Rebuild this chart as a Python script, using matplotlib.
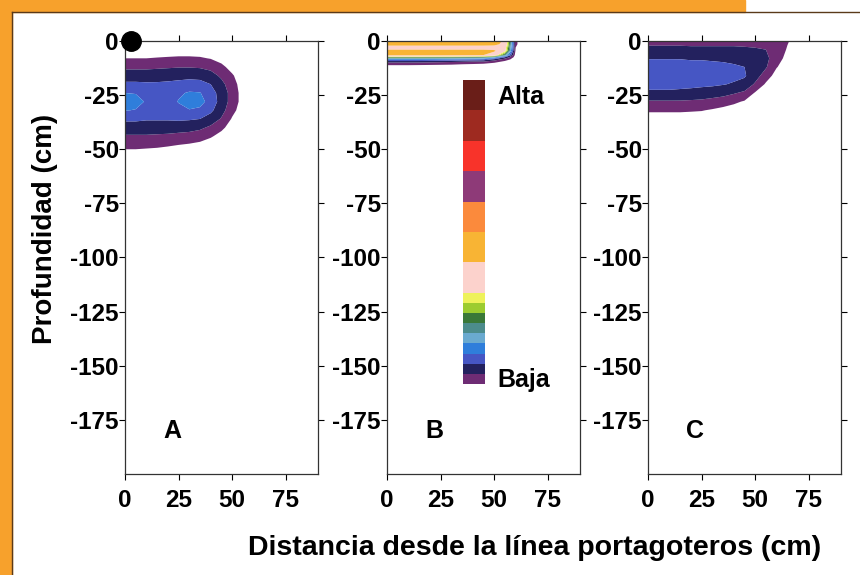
import numpy as np
import matplotlib
matplotlib.use("Agg")
import matplotlib.pyplot as plt
from matplotlib.colors import ListedColormap, BoundaryNorm
from matplotlib.cm import ScalarMappable
from matplotlib.patches import Rectangle

plt.rcParams['font.family'] = ['Liberation Sans Narrow', 'Liberation Sans', 'DejaVu Sans']
plt.rcParams['font.weight'] = 'bold'
plt.rcParams['axes.unicode_minus'] = False

# concentration classes, low (Baja) to high (Alta)
class_colors = ['#6e2c74', '#23215e', '#4656c4', '#2f7edb', '#6aaad0',
                '#4c8c8c', '#3a7838', '#9ccc30', '#eef25a', '#fcd2cc',
                '#f8b434', '#fb8a3c', '#8e3a78', '#f8332a', '#9e2a20', '#6a1e18']
class_bounds = [0.5, 1.5, 2.5, 3.5, 4.5, 5.5, 6.5, 7.5, 8.5, 9.5,
                12.5, 15.5, 18.5, 21.5, 24.5, 27.5, 30.5]

# distance from the dripper line (cm)
dist = [0, 5, 10, 15, 20, 25, 30, 35, 40, 45, 50, 55, 60, 65, 70, 90]

# --- A ---
depth_a = [0, -4, -8, -12, -16, -20, -24, -28, -32, -36, -40, -44, -48, -52, -56, -200]
conc_a = [
    [0] * 16,
    [0] * 16,
    [0.5, 0.5, 0.5, 0.55, 0.6, 0.65, 0.65, 0.6, 0.45, 0.2, 0, 0, 0, 0, 0, 0],
    [1.3, 1.3, 1.3, 1.35, 1.4, 1.45, 1.45, 1.4, 1.2, 0.7, 0.2, 0, 0, 0, 0, 0],
    [2.0, 2.0, 2.0, 2.05, 2.1, 2.15, 2.2, 2.15, 1.9, 1.3, 0.6, 0, 0, 0, 0, 0],
    [2.7, 2.7, 2.65, 2.65, 2.7, 2.8, 2.9, 2.85, 2.5, 1.8, 0.9, 0.05, 0, 0, 0, 0],
    [3.5, 3.45, 3.15, 3.0, 3.05, 3.35, 3.6, 3.55, 2.9, 2.1, 1.1, 0.1, 0, 0, 0, 0],
    [4.0, 3.85, 3.4, 3.1, 3.15, 3.55, 3.9, 3.85, 3.1, 2.1, 1.1, 0.1, 0, 0, 0, 0],
    [3.55, 3.45, 3.15, 3.0, 3.0, 3.25, 3.45, 3.3, 2.7, 1.9, 0.8, 0, 0, 0, 0, 0],
    [2.7, 2.7, 2.6, 2.6, 2.6, 2.65, 2.6, 2.5, 2.1, 1.4, 0.4, 0, 0, 0, 0, 0],
    [2.0, 2.0, 2.0, 2.0, 2.0, 1.95, 1.9, 1.7, 1.3, 0.7, 0.1, 0, 0, 0, 0, 0],
    [1.4, 1.4, 1.4, 1.35, 1.3, 1.2, 1.1, 0.95, 0.6, 0.2, 0, 0, 0, 0, 0, 0],
    [0.8, 0.8, 0.75, 0.7, 0.6, 0.5, 0.4, 0.25, 0.05, 0, 0, 0, 0, 0, 0, 0],
    [0.2, 0.2, 0.15, 0.1, 0.05, 0, 0, 0, 0, 0, 0, 0, 0, 0, 0, 0],
    [0] * 16,
    [0] * 16,
]

# --- B ---
depth_b = [0, -1.5, -3, -4.5, -6.5, -7.5, -8.5, -9.5, -10.5, -12, -200]
conc_b = np.array([
    # one row per distance, columns follow depth_b
    [14.0, 13.6, 11.0, 13.2, 13.0, 7.5, 4.0, 2.0, 0.9, 0, 0],
    [14.0, 13.6, 11.0, 13.2, 13.0, 7.5, 4.0, 2.0, 0.9, 0, 0],
    [14.0, 13.6, 11.0, 13.2, 13.0, 7.5, 4.0, 2.0, 0.9, 0, 0],
    [14.0, 13.6, 11.0, 13.2, 13.0, 7.5, 4.0, 2.0, 0.85, 0, 0],
    [14.0, 13.6, 11.0, 13.2, 13.0, 7.4, 3.9, 1.9, 0.8, 0, 0],
    [14.0, 13.6, 11.0, 13.2, 13.0, 7.3, 3.8, 1.8, 0.75, 0, 0],
    [14.0, 13.6, 11.0, 13.2, 12.9, 7.2, 3.7, 1.7, 0.7, 0, 0],
    [14.0, 13.6, 11.0, 13.2, 12.8, 7.0, 3.5, 1.6, 0.6, 0, 0],
    [14.0, 13.6, 11.0, 13.2, 12.7, 6.8, 3.4, 1.5, 0.55, 0, 0],
    [14.0, 13.6, 11.0, 13.2, 12.5, 6.5, 3.2, 1.5, 0.5, 0, 0],
    [13.8, 13.4, 11.0, 12.9, 11.0, 5.0, 2.2, 0.9, 0.2, 0, 0],
    [12.0, 11.5, 10.5, 10.0, 6.0, 2.5, 1.0, 0.3, 0, 0, 0],
    [0.6, 0.6, 0.5, 0.3, 0, 0, 0, 0, 0, 0, 0],
    [0] * 11,
    [0] * 11,
    [0] * 11,
]).T

# --- C ---
depth_c = [0, -4, -8, -12, -16, -20, -24, -28, -32, -36, -200]
conc_c = np.array([
    [1.2, 1.75, 2.45, 2.95, 3.05, 2.85, 2.3, 1.4, 0.65, 0, 0],
    [1.2, 1.75, 2.45, 2.95, 3.05, 2.85, 2.3, 1.4, 0.65, 0, 0],
    [1.2, 1.75, 2.45, 2.95, 3.05, 2.85, 2.3, 1.4, 0.65, 0, 0],
    [1.2, 1.75, 2.45, 2.9, 3.05, 2.8, 2.25, 1.4, 0.65, 0, 0],
    [1.2, 1.7, 2.4, 2.85, 3.0, 2.75, 2.2, 1.35, 0.6, 0, 0],
    [1.2, 1.7, 2.4, 2.85, 3.0, 2.7, 2.1, 1.3, 0.55, 0, 0],
    [1.2, 1.7, 2.35, 2.8, 2.95, 2.65, 2.0, 1.15, 0.4, 0, 0],
    [1.2, 1.7, 2.3, 2.75, 2.9, 2.55, 1.85, 1.0, 0.2, 0, 0],
    [1.2, 1.7, 2.2, 2.65, 2.75, 2.4, 1.6, 0.7, 0.05, 0, 0],
    [1.2, 1.65, 2.1, 2.5, 2.6, 2.2, 1.3, 0.4, 0, 0, 0],
    [1.15, 1.6, 1.9, 2.1, 1.95, 1.35, 0.4, 0, 0, 0, 0],
    [1.1, 1.5, 1.7, 1.6, 1.0, 0.35, 0, 0, 0, 0, 0],
    [0.95, 1.2, 1.05, 0.55, 0.1, 0, 0, 0, 0, 0, 0],
    [0.6, 0.4, 0.1, 0, 0, 0, 0, 0, 0, 0, 0],
    [0] * 11,
    [0] * 11,
]).T

panel_letters = ['A', 'B', 'C']
x_ticks = [0, 25, 50, 75]
y_ticks = [0, -25, -50, -75, -100, -125, -150, -175]

cmap = ListedColormap(class_colors)
norm = BoundaryNorm(class_bounds, cmap.N)

fig = plt.figure(figsize=(8.6, 5.75), dpi=100)

# orange frame on the left and top edges
fig.patches.append(Rectangle((0, 0.979), 0.866, 0.021, transform=fig.transFigure,
                             color='#f7a12c', zorder=0))
fig.patches.append(Rectangle((0, 0), 0.014, 1, transform=fig.transFigure,
                             color='#f7a12c', zorder=0))
fig.add_artist(plt.Line2D([0.014, 0.014], [0, 0.979], transform=fig.transFigure,
                          color='#5a3a1a', lw=1))
fig.add_artist(plt.Line2D([0.014, 1], [0.979, 0.979], transform=fig.transFigure,
                          color='#5a3a1a', lw=1))

lefts = [0.1453, 0.450, 0.7535]
fields = [(depth_a, conc_a), (depth_b, conc_b), (depth_c, conc_c)]

for left, (depth, conc), letter in zip(lefts, fields, panel_letters):
    ax = fig.add_axes([left, 0.1757, 0.2244, 0.753])
    ax.contourf(dist, depth, np.asarray(conc), levels=class_bounds,
                colors=class_colors, antialiased=True)
    ax.set_xlim(0, 90)
    ax.set_ylim(-200, 0)
    ax.set_xticks(x_ticks)
    ax.set_yticks(y_ticks)
    ax.tick_params(direction='out', length=4, width=0.8, top=True, right=True,
                   labelsize=17.5, pad=0.5)
    ax.tick_params(axis='x', pad=7)
    for lab in ax.get_xticklabels() + ax.get_yticklabels():
        lab.set_fontweight('bold')
    for sp in ax.spines.values():
        sp.set_linewidth(0.9)
        sp.set_color('#333333')
    ax.text(22, -180, letter, fontsize=18, fontweight='bold', ha='center', va='center')
    if letter == 'A':
        # dripper position
        ax.plot([3], [0], 'o', color='black', markersize=14, clip_on=False, zorder=5)

# legend bar inside panel B
cax = fig.add_axes([463 / 860, 1 - 384 / 575, 22 / 860, 304 / 575])
cb = fig.colorbar(ScalarMappable(norm=norm, cmap=cmap), cax=cax,
                  spacing='proportional', ticks=[])
cb.minorticks_off()
cax.tick_params(length=0, which='both')
cb.outline.set_visible(False)
fig.text(497 / 860, 1 - 97 / 575, 'Alta', fontsize=18, fontweight='bold', va='center')
fig.text(497 / 860, 1 - 380 / 575, 'Baja', fontsize=18, fontweight='bold', va='center')

fig.text(45 / 860, 1 - 229 / 575, 'Profundidad (cm)', rotation=90, fontsize=20,
         fontweight='bold', ha='center', va='center')
fig.text(535 / 860, 1 - 548 / 575, 'Distancia desde la línea portagoteros (cm)',
         fontsize=20.5, fontweight='bold', ha='center', va='center')

fig.savefig('out.png', dpi=100)
